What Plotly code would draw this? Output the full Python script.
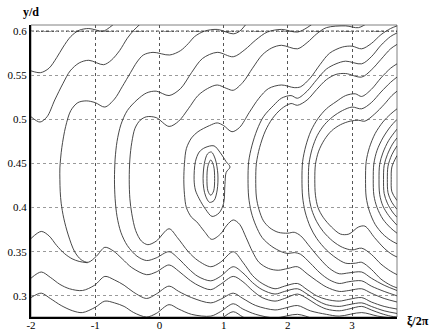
import plotly.graph_objects as go

# ---- axes / ticks ----
x_ticks = [-2, -1, 0, 1, 2, 3]
y_ticks = [0.3, 0.35, 0.4, 0.45, 0.5, 0.55, 0.6]
y_tick_text = ["0.3", "0.35", "0.4", "0.45", "0.5", "0.55", "0.6"]
x_range = [-2.0, 3.7]
y_range = [0.276, 0.607]

# ---- contour lines (xi/2pi, y/d) ----
u1 = [(-2.0, 0.555), (-1.85, 0.553), (-1.72, 0.558), (-1.6, 0.570), (-1.5, 0.582), (-1.38, 0.594),
      (-1.25, 0.601), (-1.1, 0.603), (-0.88, 0.600), (-0.78, 0.604), (-0.68, 0.610), (-0.6, 0.616)]
u2 = [(-2.0, 0.503), (-1.86, 0.497), (-1.75, 0.503), (-1.63, 0.522), (-1.5, 0.541), (-1.39, 0.555),
      (-1.25, 0.564), (-1.1, 0.567), (-0.87, 0.562), (-0.75, 0.567), (-0.62, 0.578), (-0.5, 0.592),
      (-0.4, 0.601), (-0.3, 0.608), (-0.2, 0.615)]
l0 = [(-2.0, 0.365), (-1.84, 0.373), (-1.72, 0.368), (-1.6, 0.357), (-1.48, 0.348), (-1.36, 0.342),
      (-1.25, 0.339), (-1.12, 0.3375)]
lb = [(-2.0, 0.320), (-1.84, 0.327), (-1.7, 0.321), (-1.55, 0.313), (-1.4, 0.308), (-1.2, 0.306),
      (-1.01, 0.312), (-0.85, 0.322), (-0.7, 0.318), (-0.55, 0.312), (-0.4, 0.304), (-0.2, 0.297),
      (-0.05, 0.302), (0.15, 0.311), (0.3, 0.305), (0.5, 0.298), (0.8, 0.292), (0.95, 0.296),
      (1.15, 0.303), (1.3, 0.297), (1.5, 0.289), (1.8, 0.284), (1.95, 0.286), (2.15, 0.289),
      (2.35, 0.283), (2.6, 0.279), (2.8, 0.277), (3.15, 0.281), (3.4, 0.277), (3.7, 0.274)]
lc = [(-2.0, 0.298), (-1.84, 0.303), (-1.7, 0.297), (-1.53, 0.289), (-1.35, 0.283), (-1.2, 0.281),
      (-1.0, 0.287), (-0.85, 0.294), (-0.7, 0.292), (-0.55, 0.288), (-0.4, 0.281), (-0.2, 0.276),
      (-0.05, 0.280), (0.15, 0.290), (0.3, 0.285), (0.5, 0.279), (0.8, 0.277), (0.95, 0.282),
      (1.15, 0.291), (1.3, 0.285), (1.5, 0.279), (1.8, 0.275), (2.15, 0.279), (2.4, 0.274), (2.6, 0.270)]
ld = [(0.9, 0.271), (1.0, 0.276), (1.15, 0.282), (1.3, 0.276), (1.45, 0.271)]

c1_up = [(-1.55, 0.432), (-1.55, 0.445), (-1.52, 0.468), (-1.46, 0.492), (-1.38, 0.510), (-1.27, 0.519),
         (-1.14, 0.521), (-1.0, 0.519), (-0.85, 0.514), (-0.7, 0.523), (-0.58, 0.537), (-0.45, 0.553),
         (-0.35, 0.565), (-0.25, 0.573), (-0.1, 0.576), (0.16, 0.573), (0.33, 0.578), (0.45, 0.586),
         (0.55, 0.594), (0.7, 0.600), (0.9, 0.602), (1.15, 0.597), (1.25, 0.600), (1.35, 0.608), (1.45, 0.618)]
c1_lo = [(-1.55, 0.432), (-1.545, 0.418), (-1.53, 0.405), (-1.49, 0.388), (-1.42, 0.369), (-1.32, 0.350),
         (-1.22, 0.341), (-1.11, 0.338), (-0.98, 0.345), (-0.85, 0.355), (-0.72, 0.351), (-0.58, 0.342),
         (-0.43, 0.332), (-0.2, 0.324), (-0.05, 0.327), (0.15, 0.335), (0.3, 0.328), (0.45, 0.319),
         (0.6, 0.312), (0.8, 0.307), (0.95, 0.313), (1.15, 0.322), (1.3, 0.316), (1.45, 0.306),
         (1.6, 0.298), (1.8, 0.294), (1.95, 0.297), (2.15, 0.302), (2.3, 0.297), (2.45, 0.290),
         (2.6, 0.285), (2.8, 0.283), (2.95, 0.285), (3.15, 0.288), (3.3, 0.284), (3.45, 0.280),
         (3.6, 0.277), (3.7, 0.276)]
c2a_up = [(-0.70, 0.432), (-0.69, 0.455), (-0.66, 0.475), (-0.6, 0.494), (-0.5, 0.510), (-0.35, 0.522),
          (-0.2, 0.530), (-0.05, 0.532), (0.15, 0.527), (0.33, 0.535), (0.5, 0.553), (0.67, 0.569),
          (0.9, 0.576), (1.15, 0.571), (1.33, 0.579), (1.5, 0.590), (1.68, 0.599), (1.9, 0.602),
          (2.15, 0.599), (2.3, 0.604), (2.45, 0.612)]
c2a_lo = [(-0.70, 0.432), (-0.69, 0.41), (-0.66, 0.39), (-0.6, 0.372), (-0.5, 0.357), (-0.35, 0.345),
          (-0.2, 0.340), (-0.05, 0.343), (0.15, 0.350), (0.3, 0.342), (0.45, 0.331), (0.6, 0.322),
          (0.8, 0.317), (0.95, 0.322), (1.15, 0.333), (1.3, 0.326), (1.45, 0.315), (1.6, 0.307),
          (1.8, 0.302), (1.95, 0.305), (2.15, 0.308), (2.3, 0.302), (2.45, 0.295), (2.6, 0.290),
          (2.8, 0.288), (2.95, 0.290), (3.15, 0.292), (3.3, 0.288), (3.5, 0.283), (3.7, 0.280)]
c2b_up = [(-0.47, 0.432), (-0.46, 0.455), (-0.43, 0.474), (-0.38, 0.490), (-0.3, 0.499), (-0.2, 0.503),
          (-0.05, 0.502), (0.15, 0.492), (0.3, 0.498), (0.45, 0.512), (0.6, 0.527), (0.75, 0.535),
          (0.9, 0.539), (1.05, 0.535), (1.15, 0.533), (1.3, 0.542), (1.45, 0.558), (1.6, 0.573),
          (1.75, 0.581), (1.9, 0.584), (2.15, 0.580), (2.3, 0.587), (2.45, 0.597), (2.6, 0.604),
          (2.9, 0.606), (3.1, 0.604), (3.25, 0.610), (3.35, 0.618)]
c2b_lo = [(-0.47, 0.432), (-0.46, 0.41), (-0.43, 0.393), (-0.37, 0.374), (-0.28, 0.362), (-0.18, 0.358),
          (-0.05, 0.362), (0.15, 0.376), (0.28, 0.366), (0.45, 0.350), (0.6, 0.340), (0.8, 0.333),
          (0.95, 0.338), (1.15, 0.350), (1.3, 0.338), (1.45, 0.323), (1.6, 0.314), (1.8, 0.308),
          (1.95, 0.311), (2.15, 0.314), (2.3, 0.307), (2.45, 0.300), (2.6, 0.296), (2.8, 0.294),
          (2.95, 0.296), (3.15, 0.298), (3.3, 0.293), (3.5, 0.288), (3.7, 0.285)]
c3_up = [(0.38, 0.432), (0.39, 0.45), (0.42, 0.467), (0.5, 0.479), (0.6, 0.486), (0.78, 0.493), (0.9, 0.496),
         (1.0, 0.493), (1.13, 0.486), (1.25, 0.491), (1.4, 0.508), (1.55, 0.524), (1.7, 0.535), (1.9, 0.539),
         (2.1, 0.536), (2.2, 0.537), (2.35, 0.547), (2.5, 0.562), (2.65, 0.575), (2.85, 0.582), (3.0, 0.583),
         (3.15, 0.580), (3.3, 0.586), (3.45, 0.596), (3.6, 0.603), (3.7, 0.606)]
c3_lo = [(0.38, 0.432), (0.39, 0.415), (0.42, 0.400), (0.5, 0.389), (0.58, 0.384), (0.7, 0.373), (0.815, 0.364),
         (0.95, 0.370), (1.05, 0.380), (1.15, 0.386), (1.25, 0.381), (1.35, 0.366), (1.45, 0.350),
         (1.55, 0.338), (1.7, 0.331), (1.85, 0.329), (2.0, 0.331), (2.15, 0.333), (2.3, 0.325), (2.45, 0.317),
         (2.6, 0.310), (2.8, 0.305), (2.95, 0.306), (3.15, 0.308), (3.3, 0.303), (3.5, 0.297), (3.7, 0.293)]
c4_up = [(1.38, 0.432), (1.39, 0.452), (1.44, 0.470), (1.52, 0.488), (1.62, 0.503), (1.78, 0.516), (1.9, 0.524),
         (2.05, 0.527), (2.15, 0.524), (2.3, 0.532), (2.45, 0.545), (2.6, 0.557), (2.75, 0.563), (2.9, 0.566),
         (3.15, 0.563), (3.3, 0.571), (3.45, 0.584), (3.6, 0.594), (3.7, 0.598)]
c4_lo = [(1.38, 0.432), (1.39, 0.412), (1.43, 0.395), (1.5, 0.380), (1.6, 0.366), (1.75, 0.356), (1.9, 0.350),
         (2.0, 0.348), (2.1, 0.349), (2.2, 0.347), (2.35, 0.337), (2.5, 0.326), (2.65, 0.318), (2.8, 0.314),
         (2.95, 0.316), (3.15, 0.317), (3.3, 0.311), (3.5, 0.305), (3.7, 0.300)]
c5_up = [(1.50, 0.432), (1.51, 0.450), (1.56, 0.468), (1.65, 0.487), (1.76, 0.501), (1.9, 0.512), (2.05, 0.518),
         (2.15, 0.516), (2.3, 0.522), (2.45, 0.534), (2.6, 0.545), (2.75, 0.551), (2.9, 0.552), (3.15, 0.548),
         (3.3, 0.556), (3.45, 0.568), (3.6, 0.580), (3.7, 0.585)]
c5_lo = [(1.50, 0.432), (1.51, 0.412), (1.55, 0.398), (1.62, 0.385), (1.72, 0.377), (1.85, 0.372), (2.0, 0.371),
         (2.1, 0.372), (2.2, 0.368), (2.35, 0.355), (2.5, 0.342), (2.65, 0.331), (2.8, 0.325), (2.95, 0.326),
         (3.15, 0.327), (3.3, 0.320), (3.5, 0.312), (3.7, 0.306)]
c6_up = [(2.22, 0.432), (2.23, 0.452), (2.28, 0.470), (2.36, 0.487), (2.47, 0.501), (2.6, 0.512), (2.75, 0.520),
         (2.9, 0.527), (3.05, 0.529), (3.15, 0.526), (3.3, 0.534), (3.45, 0.547), (3.6, 0.558), (3.7, 0.563)]
c6_lo = [(2.22, 0.432), (2.23, 0.412), (2.27, 0.395), (2.35, 0.378), (2.45, 0.365), (2.6, 0.352), (2.75, 0.343),
         (2.9, 0.337), (3.05, 0.337), (3.15, 0.338), (3.3, 0.330), (3.45, 0.319), (3.6, 0.312), (3.7, 0.309)]
c7_up = [(2.32, 0.432), (2.33, 0.450), (2.38, 0.467), (2.46, 0.482), (2.57, 0.494), (2.7, 0.503), (2.85, 0.510),
         (3.0, 0.514), (3.15, 0.512), (3.3, 0.519), (3.45, 0.531), (3.6, 0.542), (3.7, 0.548)]
c7_lo = [(2.32, 0.432), (2.33, 0.413), (2.37, 0.398), (2.45, 0.384), (2.55, 0.373), (2.7, 0.362), (2.85, 0.355),
         (3.0, 0.352), (3.15, 0.354), (3.3, 0.347), (3.45, 0.336), (3.6, 0.328), (3.7, 0.324)]
c8_up = [(2.42, 0.432), (2.43, 0.449), (2.48, 0.464), (2.57, 0.477), (2.68, 0.487), (2.82, 0.494), (2.97, 0.498),
         (3.1, 0.499), (3.2, 0.498), (3.35, 0.506), (3.5, 0.517), (3.62, 0.527), (3.7, 0.532)]
c8_lo = [(2.42, 0.432), (2.43, 0.414), (2.47, 0.400), (2.55, 0.389), (2.68, 0.378), (2.82, 0.370), (2.95, 0.370),
         (3.1, 0.378), (3.2, 0.379), (3.35, 0.366), (3.5, 0.354), (3.62, 0.347), (3.7, 0.344)]
c9_up = [(3.21, 0.432), (3.22, 0.452), (3.27, 0.468), (3.36, 0.484), (3.48, 0.497), (3.6, 0.506), (3.7, 0.512)]
c9_lo = [(3.21, 0.432), (3.22, 0.412), (3.27, 0.396), (3.36, 0.381), (3.48, 0.370), (3.6, 0.363), (3.7, 0.359)]
c10_up = [(3.33, 0.432), (3.34, 0.450), (3.39, 0.465), (3.48, 0.479), (3.6, 0.492), (3.7, 0.500)]
c10_lo = [(3.33, 0.432), (3.34, 0.414), (3.39, 0.400), (3.48, 0.387), (3.6, 0.377), (3.7, 0.371)]
c11_up = [(3.42, 0.432), (3.43, 0.449), (3.48, 0.462), (3.57, 0.476), (3.7, 0.489)]
c11_lo = [(3.42, 0.432), (3.43, 0.415), (3.48, 0.402), (3.57, 0.391), (3.7, 0.380)]
c12_up = [(3.49, 0.432), (3.50, 0.448), (3.55, 0.460), (3.63, 0.472), (3.7, 0.479)]
c12_lo = [(3.49, 0.432), (3.50, 0.416), (3.55, 0.405), (3.63, 0.395), (3.7, 0.389)]
c13_up = [(3.55, 0.432), (3.56, 0.447), (3.62, 0.460), (3.7, 0.470)]
c13_lo = [(3.55, 0.432), (3.56, 0.417), (3.62, 0.406), (3.7, 0.398)]
c14_up = [(3.61, 0.432), (3.62, 0.446), (3.7, 0.459)]
c14_lo = [(3.61, 0.432), (3.62, 0.418), (3.7, 0.408)]

# island loops around (0.8, 0.43)
loop_a = [(0.54, 0.432), (0.56, 0.452), (0.62, 0.463), (0.71, 0.468), (0.85, 0.470), (0.95, 0.462),
          (1.04, 0.452), (1.1, 0.446), (1.04, 0.440), (1.02, 0.426), (1.0, 0.405), (0.93, 0.394),
          (0.82, 0.390), (0.72, 0.398), (0.62, 0.41), (0.56, 0.42), (0.54, 0.432)]
loop_b = [(0.68, 0.433), (0.70, 0.450), (0.75, 0.461), (0.81, 0.463), (0.87, 0.455), (0.91, 0.438),
          (0.90, 0.420), (0.85, 0.408), (0.78, 0.406), (0.72, 0.413), (0.69, 0.422), (0.68, 0.433)]
loop_c = [(0.74, 0.433), (0.755, 0.447), (0.80, 0.454), (0.845, 0.447), (0.86, 0.433), (0.845, 0.419),
          (0.80, 0.414), (0.755, 0.419), (0.74, 0.433)]

open_lines = [u1, u2, l0, lb, lc, ld, loop_a, loop_b, loop_c]
c_curves = [(c1_up, c1_lo), (c2a_up, c2a_lo), (c2b_up, c2b_lo), (c3_up, c3_lo), (c4_up, c4_lo),
            (c5_up, c5_lo), (c6_up, c6_lo), (c7_up, c7_lo), (c8_up, c8_lo), (c9_up, c9_lo),
            (c10_up, c10_lo), (c11_up, c11_lo), (c12_up, c12_lo), (c13_up, c13_lo), (c14_up, c14_lo)]

paths = list(open_lines)
for up, lo in c_curves:
    paths.append(list(reversed(up)) + lo[1:])

fig = go.Figure()
for pts in paths:
    fig.add_trace(go.Scatter(
        x=[p[0] for p in pts], y=[p[1] for p in pts], mode="lines",
        line=dict(color="#333333", width=0.9, shape="spline", smoothing=0.9),
        hoverinfo="skip", showlegend=False))

serif = "Liberation Serif, Times New Roman, serif"
fig.update_layout(
    width=432, height=331,
    margin=dict(l=31, r=35, t=25, b=14, autoexpand=False),
    paper_bgcolor="white", plot_bgcolor="white",
    xaxis=dict(range=x_range, tickvals=x_ticks, ticktext=[str(v) for v in x_ticks],
               showgrid=True, gridcolor="#555", griddash="3px,3px", gridwidth=1,
               zeroline=False, showline=True, linecolor="black", linewidth=2,
               ticks="", automargin=False, ticklabelstandoff=-3,
               tickfont=dict(family=serif, size=11, color="black")),
    yaxis=dict(range=y_range, tickvals=y_ticks, ticktext=y_tick_text,
               showgrid=True, gridcolor="#9a9a9a", griddash="3px,3px", gridwidth=1,
               zeroline=False, showline=True, linecolor="black", linewidth=2,
               ticks="", automargin=False,
               tickfont=dict(family=serif, size=11, color="black")),
    shapes=[
        dict(type="rect", xref="paper", yref="paper", x0=0, x1=1, y0=0, y1=1,
             line=dict(color="#808080", width=1), layer="below"),
        dict(type="line", xref="paper", yref="y", x0=0, x1=1, y0=y_ticks[-1], y1=y_ticks[-1],
             line=dict(color="black", width=1, dash="3px,2px"), layer="below"),
    ],
    annotations=[
        dict(text="<b>y/d</b>", xref="paper", yref="paper", x=0.0, y=1.045, showarrow=False,
             xanchor="center", yanchor="middle",
             font=dict(family=serif, size=12, color="black")),
        dict(text="<b>ξ/2π</b>", xref="paper", yref="paper", x=1.057, y=-0.012, showarrow=False,
             xanchor="center", yanchor="middle",
             font=dict(family=serif, size=12, color="black")),
    ],
)

fig.write_html("out.html", config={"displayModeBar": False},
               post_script="document.body.style.margin='0';")
